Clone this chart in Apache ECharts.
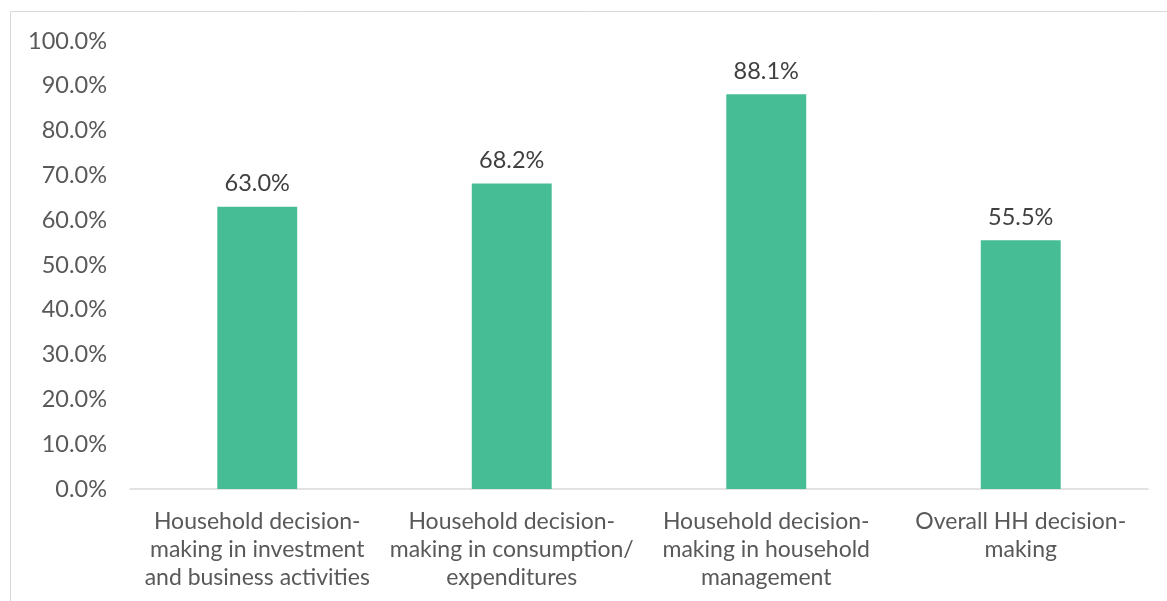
<!DOCTYPE html>
<html>
<head>
<meta charset="utf-8">
<script src="https://cdn.jsdelivr.net/npm/echarts@6/dist/echarts.min.js"></script>
<style>
  html, body { margin: 0; padding: 0; background: #ffffff; }
  #chart { width: 1167px; height: 601px; }
</style>
</head>
<body>
<div id="chart"></div>
<script>
// Share of households by decision-making domain
const categories = [
  'Household decision-\nmaking in investment\nand business activities',
  'Household decision-\nmaking in consumption/\nexpenditures',
  'Household decision-\nmaking in household\nmanagement',
  'Overall HH decision-\nmaking'
];
const values = [63.0, 68.2, 88.1, 55.5];
const yMin = 0;
const yMax = 100;
const yStep = 10;

const chart = echarts.init(document.getElementById('chart'));
const font = 'Lato, "Open Sans", sans-serif';

chart.setOption({
  animation: false,
  backgroundColor: '#ffffff',
  graphic: [{
    type: 'rect',
    shape: { x: 10.5, y: 11.5, width: 1300, height: 800 },
    style: { fill: 'none', stroke: '#d9d9d9', lineWidth: 1 },
    silent: true
  }],
  grid: { left: 130, right: 19, top: 41, bottom: 112 },
  xAxis: {
    type: 'category',
    data: categories,
    axisLine: { show: true, lineStyle: { color: '#d9d9d9', width: 1.5 } },
    axisTick: { show: false },
    axisLabel: {
      interval: 0,
      color: '#595959',
      fontFamily: font,
      fontSize: 23,
      lineHeight: 28,
      margin: 19
    }
  },
  yAxis: {
    type: 'value',
    min: yMin,
    max: yMax,
    interval: yStep,
    axisLine: { show: false },
    axisTick: { show: false },
    splitLine: { show: false },
    axisLabel: {
      color: '#595959',
      fontFamily: font,
      fontSize: 23.5,
      margin: 23,
      formatter: v => v.toFixed(1) + '%'
    }
  },
  series: [{
    type: 'bar',
    data: values,
    barWidth: '31.4%',
    itemStyle: { color: '#47bd96' },
    label: {
      show: true,
      position: 'top',
      distance: 11,
      color: '#404040',
      fontFamily: font,
      fontSize: 23.5,
      formatter: p => p.value.toFixed(1) + '%'
    }
  }]
});
</script>
</body>
</html>
